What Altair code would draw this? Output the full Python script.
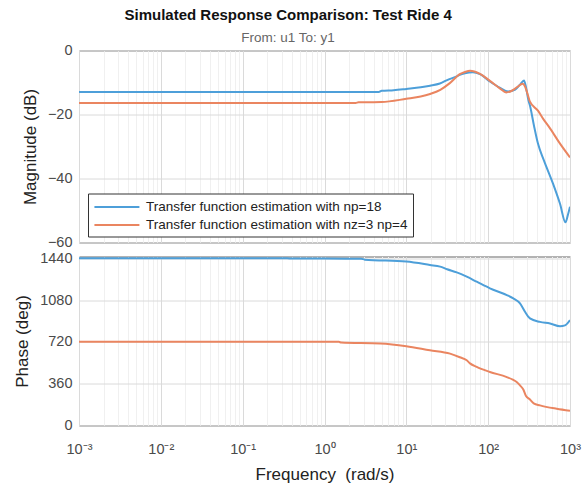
import altair as alt
import pandas as pd

# Legend entries (series names) and their line colours
SERIES = ["Transfer function estimation with np=18",
          "Transfer function estimation with nz=3 np=4"]
COLORS = ["#4d9fd9", "#ea8560"]

# Magnitude (dB), model with np=18
mag_np18_freq = [0.001, 0.01, 0.1, 1, 3, 4.6, 5.0, 7, 10, 15, 19.5, 25.7, 33, 41.3, 45, 52,
                 65, 79.5, 105, 140, 175, 214, 246, 274, 290, 310, 324, 363, 406, 481,
                 620, 755, 881, 940, 1000]
mag_np18_db = [-13.0, -13.0, -13.0, -13.0, -13.0, -13.0, -12.6, -12.4, -12.0, -11.5, -11.0,
               -10.3, -9.0, -8.1, -7.6, -7.1, -6.8, -7.4, -9.7, -11.7, -12.8, -12.2, -10.6,
               -9.4, -11.5, -15.5, -17.2, -23.5, -29.1, -34.4, -41.6, -47.9, -53.7, -51.5,
               -48.8]

# Magnitude (dB), model with nz=3 np=4
mag_nz3_freq = [0.001, 0.01, 0.1, 1, 2.4, 2.6, 5, 10, 15, 19.5, 26, 34, 45, 52, 60, 79.5,
                105, 140, 166, 197, 230, 263, 285, 303, 324, 406, 468, 562, 755, 1000]
mag_nz3_db = [-16.4, -16.4, -16.4, -16.4, -16.4, -16.2, -16.1, -15.1, -14.4, -13.6, -12.3,
              -10.2, -7.4, -6.7, -6.3, -7.3, -9.5, -11.9, -13.1, -12.5, -11.3, -10.4, -11.5,
              -13.6, -16.0, -18.8, -21.3, -24.1, -29.1, -33.4]

# Phase (deg), model with np=18
ph_np18_freq = [0.001, 0.01, 0.1, 0.35, 0.4, 1, 2.8, 3.1, 10, 19.4, 25.9, 31.5, 41.3, 54.7,
                72.4, 105, 169, 203, 245, 282, 310, 324, 430, 570, 755, 869, 1000]
ph_np18_deg = [1440, 1440, 1440, 1440, 1437, 1437, 1436, 1428, 1411, 1382, 1368, 1345, 1318,
               1281, 1238, 1181, 1123, 1094, 1051, 979, 936, 922, 892, 878, 855, 862, 907]

# Phase (deg), model with nz=3 np=4
ph_nz3_freq = [0.001, 0.01, 0.1, 1, 1.5, 1.6, 4.8, 10, 19.4, 34.2, 45, 54.7, 60, 72.4, 105,
               169, 200, 223, 245, 269, 290, 324, 360, 430, 689, 1000]
ph_nz3_deg = [720, 720, 720, 720, 720, 714, 706, 683, 648, 619, 588, 562, 535, 504, 461, 417,
              395, 374, 345, 310, 253, 224, 190, 173, 144, 127]

# Axis tick values
DECADES = [0.001, 0.01, 0.1, 1, 10, 100, 1000]
MINOR = [m * d for d in DECADES[:-1] for m in range(2, 10)]
MAG_TICKS = [-60, -40, -20, 0]
PHASE_TICKS = [0, 360, 720, 1080, 1440]


def frame(freq, vals, name):
    return pd.DataFrame({"freq": freq, "value": vals, "series": name})


mag_df = pd.concat([frame(mag_np18_freq, mag_np18_db, SERIES[0]),
                    frame(mag_nz3_freq, mag_nz3_db, SERIES[1])])
ph_df = pd.concat([frame(ph_np18_freq, ph_np18_deg, SERIES[0]),
                   frame(ph_nz3_freq, ph_nz3_deg, SERIES[1])])

FONT = "Liberation Sans"
is_decade = "abs(log(datum.value)/LN10 - round(log(datum.value)/LN10)) < 1e-6"
grid_color = {"condition": {"test": is_decade, "value": "#dadada"}, "value": "#f0f0f0"}
decade_label = ("(" + is_decade + ") ? ['10⁻³','10⁻²','10⁻¹','10⁰','10¹','10²','10³']"
                "[round(log(datum.value)/LN10) + 3] : ''")

x_scale = alt.Scale(type="log", domain=[0.001, 1000], nice=False)
color = alt.Color("series:N", scale=alt.Scale(domain=SERIES, range=COLORS))

line = dict(strokeWidth=2, interpolate="monotone", clip=True)

# a long, flat legend swatch that starts at the symbol's left edge
SWATCH = "M-1,0H5.36"

mag = alt.Chart(mag_df).mark_line(**line).encode(
    x=alt.X("freq:Q", scale=x_scale,
            axis=alt.Axis(values=DECADES + MINOR, labels=False, title=None,
                          gridColor=grid_color)),
    y=alt.Y("value:Q", scale=alt.Scale(domain=[-60, 0], nice=False, zero=False),
            axis=alt.Axis(values=MAG_TICKS, format="d", title="Magnitude (dB)",
                          gridColor="#dadada")),
    color=color.legend(
        orient="none", legendX=9, legendY=143, title=None,
        symbolType=SWATCH, symbolSize=200, symbolStrokeWidth=2, symbolFillColor="transparent",
        labelFont=FONT, labelFontSize=13.5, labelColor="#222", labelLimit=400,
        labelOffset=36, fillColor="white", strokeColor="#333", padding=5,
        rowPadding=3, cornerRadius=0),
).properties(width=491, height=192)

phase = alt.Chart(ph_df).mark_line(**line).encode(
    x=alt.X("freq:Q", scale=x_scale,
            axis=alt.Axis(values=DECADES + MINOR, labelExpr=decade_label,
                          title="Frequency\u00a0 (rad/s)", gridColor=grid_color,
                          labelPadding=17, labelOverlap=False, titlePadding=10)),
    y=alt.Y("value:Q", scale=alt.Scale(domain=[0, 1455], nice=False, zero=False),
            axis=alt.Axis(values=PHASE_TICKS, format="d", title="Phase (deg)",
                          gridColor="#dadada")),
    color=color.legend(None),
).properties(width=491, height=169)

chart = alt.vconcat(
    mag, phase, spacing=14, bounds="flush",
    title=alt.TitleParams(
        text="Simulated Response Comparison: Test Ride 4",
        subtitle="From: u1  To: y1",
        font=FONT, fontSize=15, fontWeight="bold", color="#111",
        subtitleFont=FONT, subtitleFontSize=13.5, subtitleColor="#666",
        subtitlePadding=8.5, anchor="middle", offset=-2.5, dx=-9),
).resolve_legend(color="independent").properties(
    padding={"left": 13, "top": 7.5, "right": 5, "bottom": 5},
).configure_view(
    stroke="#666", strokeWidth=1,
).configure_axis(
    labelFont=FONT, labelFontSize=14.5, labelColor="#4a4a4a", labelFlush=False,
    titleFont=FONT, titleFontSize=17, titleFontWeight="normal", titleColor="#222",
    domain=False, ticks=False, labelPadding=7, titlePadding=8, gridWidth=1,
)

chart.save("out.html", embed_options={"renderer": "svg", "actions": False})
